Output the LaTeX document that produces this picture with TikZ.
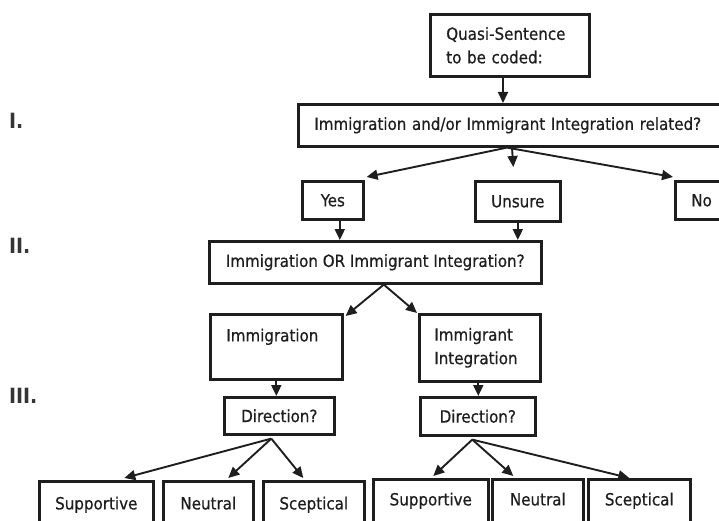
\documentclass[tikz,border=0pt]{standalone}
\usepackage{fontspec}
\setmainfont{DejaVu Sans Condensed}[FakeBold=0.6]
\newfontfamily\romfont{DejaVu Sans Condensed Bold}
\usetikzlibrary{arrows.meta}
\definecolor{ink}{HTML}{1E1E1E}
\tikzset{
  box/.style={draw=ink, line width=2.6pt, inner sep=0pt, text=ink, font=\fontsize{16.8}{23.5}\selectfont},
  lbox/.style={box, align=left, inner xsep=16pt},
  cbox/.style={box, align=center},
  arr/.style={draw=ink, line width=1.9pt, -{Triangle[length=11pt,width=10pt]}},
  roman/.style={text=ink!90, inner sep=0pt, anchor=west, font=\romfont\fontsize{21}{24}\selectfont}
}
\begin{document}
\begin{tikzpicture}[x=1pt,y=-1pt]
\useasboundingbox (0,0) rectangle (719,521);
\clip (0,0) rectangle (719,521);
% boxes
\node[lbox, anchor=north west, minimum width=159pt, minimum height=62pt, text width=127pt] (q) at (429,13) {Quasi-Sentence\\to be coded:};
\node[lbox, anchor=north west, minimum width=443pt, minimum height=42pt, text width=411pt] (b1) at (297,103) {Immigration and/or Immigrant Integration related?};
\node[cbox, anchor=north west, minimum width=61pt, minimum height=38pt] (yes) at (301,180) {Yes};
\node[cbox, anchor=north west, minimum width=85pt, minimum height=40pt] (unsure) at (474,180) {Unsure};
\node[lbox, anchor=north west, minimum width=66pt, minimum height=38pt, text width=34pt] (no) at (674,180) {No};
\node[cbox, anchor=north west, minimum width=332pt, minimum height=42pt] (b2) at (208,240) {Immigration OR Immigrant Integration?};
\node[lbox, anchor=north west, minimum width=132pt, minimum height=65pt, text width=100pt] (imm) at (209,313) {Immigration\\\mbox{}};
\node[lbox, anchor=north west, minimum width=121pt, minimum height=67pt, inner xsep=15pt, text width=91pt] (ii) at (418,313) {Immigrant\\Integration};
\node[cbox, anchor=north west, minimum width=110pt, minimum height=37pt] (d1) at (223,396) {Direction?};
\node[cbox, anchor=north west, minimum width=115pt, minimum height=38pt] (d2) at (419,396) {Direction?};
\node[cbox, anchor=north west, minimum width=114pt, minimum height=67pt] (s1) at (38,480) {Supportive\\\mbox{}};
\node[cbox, anchor=north west, minimum width=90pt, minimum height=67pt] (n1) at (162,480) {Neutral\\\mbox{}};
\node[cbox, anchor=north west, minimum width=101pt, minimum height=67pt] (c1) at (262,480) {Sceptical\\\mbox{}};
\node[cbox, anchor=north west, minimum width=115pt, minimum height=63pt] (s2) at (372,478) {Supportive\\\mbox{}};
\node[cbox, anchor=north west, minimum width=91pt, minimum height=63pt] (n2) at (491,478) {Neutral\\\mbox{}};
\node[cbox, anchor=north west, minimum width=102pt, minimum height=63pt] (c2) at (587,478) {Sceptical\\\mbox{}};
% level labels
\node[roman] (l1) at (9,121) {I.};
\node[roman] (l2) at (9,246) {II.};
\node[roman] (l3) at (9,396) {III.};
% connectors
\coordinate (o1) at ([xshift=210pt]b1.south west);
\coordinate (m1) at ([xshift=215pt]b1.south west);
\coordinate (o2) at ([xshift=8.5pt]b2.south);
\coordinate (o3) at ([xshift=-8pt,yshift=-3pt]d1.south);
\coordinate (o4) at ([xshift=-5.5pt,yshift=-3pt]d2.south);
\draw[arr] ([xshift=74pt]q.south west) -- ([xshift=74pt]q.south west |- b1.north);
\draw[arr] (o1) -- ([xshift=2pt,yshift=3pt]yes.north east);
\draw[arr] (m1) -- ([xshift=-4.5pt,yshift=13pt]unsure.north);
\draw[arr] (o1) -- ([xshift=-1pt,yshift=3pt]no.north west);
\draw[arr] ([xshift=7pt]yes.south) -- ([xshift=7pt]yes.south |- b2.north);
\draw[arr] (unsure.south) -- (unsure.south |- b2.north);
\draw[arr] (o2) -- ([xshift=2pt,yshift=-3pt]imm.north east);
\draw[arr] (o2) -- ([xshift=-1pt]ii.north west);
\draw[arr] (imm.south) -- (imm.south |- d1.north);
\draw[arr] ([xshift=-1.5pt]ii.south) -- ([xshift=-1.5pt]ii.south |- d2.north);
\draw[arr] (o3) -- ([xshift=28pt,yshift=2pt]s1.north);
\draw[arr] (o3) -- ([xshift=20pt,yshift=2pt]n1.north);
\draw[arr] (o3) -- ([xshift=-10.5pt,yshift=2pt]c1.north);
\draw[arr] (o4) -- ([xshift=2.5pt,yshift=2pt]s2.north);
\draw[arr] (o4) -- ([xshift=-24.5pt,yshift=2pt]n2.north);
\draw[arr] (o4) -- ([xshift=-10pt,yshift=0pt]c2.north);
\end{tikzpicture}
\end{document}
